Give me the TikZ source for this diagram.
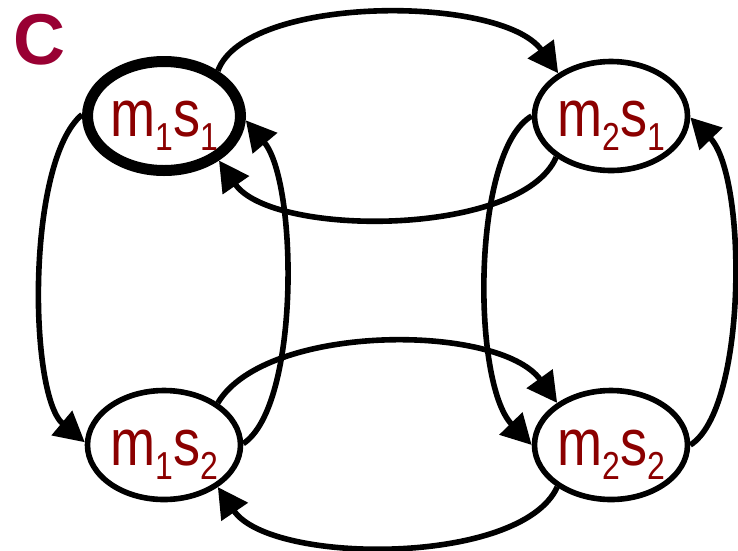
\documentclass[tikz,border=0pt]{standalone}
\usepackage{fontspec}
\setmainfont{Liberation Sans}
\newfontfamily\narrowfont[FakeStretch=0.82]{Liberation Sans}
\usetikzlibrary{arrows.meta,shapes.geometric}
\definecolor{lbl}{RGB}{139,0,0}
\definecolor{panelc}{RGB}{153,0,51}
\newcommand{\stname}[2]{{\narrowfont\fontsize{66}{66}\selectfont m\raisebox{-14pt}{\fontsize{39}{39}\selectfont #1}s\raisebox{-14pt}{\fontsize{39}{39}\selectfont #2}}}
\begin{document}
\begin{tikzpicture}[x=1pt,y=-1pt,
  state/.style={ellipse, draw, line width=5.6pt, minimum width=153pt, minimum height=109pt,
    inner sep=0pt, text=lbl, text height=45pt, text depth=5pt},
  initstate/.style={line width=11pt},
  tr/.style={line width=5.6pt, -{Triangle[length=30pt,width=31pt]}}
]
\useasboundingbox (0,0) rectangle (738,550);
\node[inner sep=0pt, anchor=base west, text=panelc, font=\fontsize{72}{72}\selectfont\bfseries] (lab) at (13,64) {C};
\node[state, initstate] (m1s1) at (164,116) {\stname{1}{1}};
\node[state] (m2s1) at (611,116) {\stname{2}{1}};
\node[state] (m1s2) at (164,445) {\stname{1}{2}};
\node[state] (m2s2) at (611,445) {\stname{2}{2}};
% horizontal pairs
\draw[tr] (m1s1.40) .. controls +(28,-76) and +(-57,-79) .. (m2s1.141);
\draw[tr] (m2s1.217) .. controls +(-35,80) and +(53,77) .. (m1s1.-39);
\draw[tr] (m1s2.38) .. controls +(48,-80) and +(-58,-80) .. (m2s2.142);
\draw[tr] (m2s2.218) .. controls +(-36,79) and +(53,78) .. (m1s2.-38);
% vertical pairs
\draw[tr] (m1s1.179) .. controls +(-56,47) and +(-56,-47) .. (m1s2.178);
\draw[tr] (m1s2.1) .. controls +(57,-38) and +(52,62) .. (m1s1.-3);
\draw[tr] (m2s1.180) .. controls +(-60,35) and +(-60,-62) .. (m2s2.180);
\draw[tr] (m2s2.0) .. controls +(57,-36) and +(57,59) .. (m2s1.-1);
\end{tikzpicture}
\end{document}
